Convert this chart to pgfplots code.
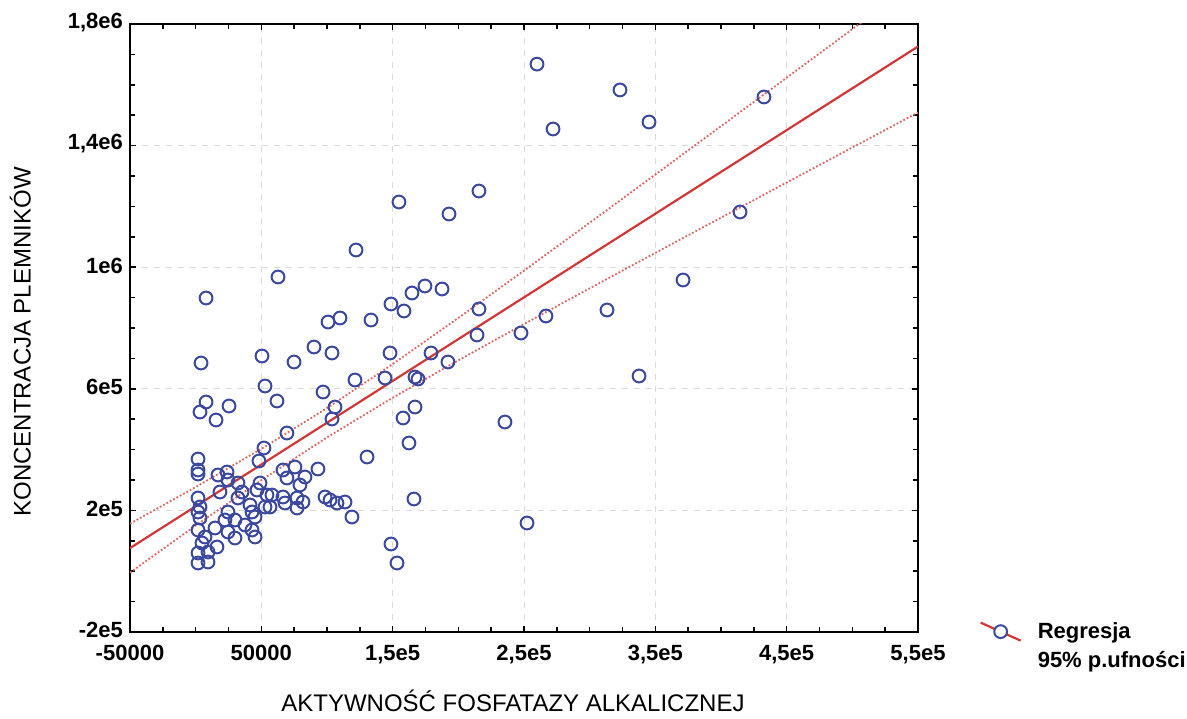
\documentclass[border=0pt]{standalone}
\usepackage{fontspec}
\setmainfont{Liberation Sans}
\usepackage{pgfplots}
\pgfplotsset{compat=1.18}
\definecolor{markblue}{RGB}{58,72,160}
\definecolor{regred}{RGB}{208,56,56}
\definecolor{bandred}{RGB}{222,100,100}
\begin{document}
\begin{tikzpicture}
\begin{axis}[
  scale only axis, width=394pt, height=304pt,
  xmin=-50000, xmax=550000, ymin=-200000, ymax=1800000,
  xtick={-50000,50000,150000,250000,350000,450000,550000},
  xticklabels={-50000,50000,{1,5e5},{2,5e5},{3,5e5},{4,5e5},{5,5e5}},
  ytick={-200000,200000,600000,1000000,1400000,1800000},
  yticklabels={-2e5,2e5,6e5,1e6,{1,4e6},{1,8e6}},
  minor x tick num=3, minor y tick num=3,
  scaled ticks=false,
  tick pos=both, tick align=inside,
  major tick length=3pt, minor tick length=2.5pt,
  every tick/.style={black, line width=0.8pt},
  axis line style={line width=1.1pt},
  grid=major, major grid style={gray!30, dashed, line width=0.5pt},
  ticklabel style={font=\fontsize{11}{13}\selectfont\bfseries},
  xticklabel style={yshift=-3pt},
  yticklabel style={yshift=0.8pt},
  label style={font=\fontsize{12}{14}\selectfont},
  xlabel={AKTYWNOŚĆ FOSFATAZY ALKALICZNEJ},
  ylabel={KONCENTRACJA PLEMNIKÓW},
  xlabel style={at={(axis description cs:0.486,-0.114)}, anchor=center},
  ylabel style={at={(axis description cs:-0.139,0.477)}, anchor=center},
  legend style={at={(axis description cs:1.07,0.03)}, anchor=north west,
    draw=none, fill=none, font=\fontsize{11}{13}\selectfont\bfseries, row sep=1pt,
    /tikz/every odd column/.append style={column sep=6pt}},
  legend cell align=left,
]
% observations
\addplot[only marks, mark=o, markblue, mark size=3.2pt, line width=1pt, forget plot] coordinates {
(259900,1668000) (323100,1583000) (432700,1560000) (345200,1477600) (272100,1454600)
(154800,1214500) (215700,1250700) (192900,1175000) (414500,1181600) (122100,1056600)
(62700,967800) (371100,957900) (174600,938200) (187600,928300) (164700,915100)
(7900,898700) (148700,879000) (215700,862500) (158600,855900) (313200,859200)
(266700,839500) (133500,826300) (100800,819700) (109900,832900) (247700,783600)
(214200,777000) (90100,737500) (103800,717800) (148000,717800) (179200,717800)
(192100,688200) (4100,684900) (50500,707900) (74900,688200) (121300,629000)
(144200,635500) (167000,638800) (169300,632200) (337600,642100) (52800,609200)
(97000,589500) (61900,559900) (106100,540100) (103800,500700) (167000,540100)
(157900,504000) (7900,556600) (3300,523700) (25400,543400) (15500,497400)
(235500,490800) (69500,454600) (162400,421700) (52000,405300) (130500,375700)
(1800,369100) (1800,332900) (1800,319700) (17000,316500) (23900,326300)
(48200,362500) (66500,332900) (75600,342800) (93100,336200) (83200,309900)
(69500,306600) (79400,283600) (32200,290100) (49000,290100) (18500,260500)
(32200,240800) (46700,267100) (54300,250700) (58100,250700) (66500,244100)
(68000,224300) (77200,240800) (81700,227600) (77200,207900) (98500,244100)
(102300,234200) (107600,224300) (113700,227600) (119000,178300) (166200,237500)
(252300,158600) (1800,240800) (3300,211200) (1800,194700) (3300,175000)
(1800,135500) (4800,92800) (9400,63200) (1800,59900) (1800,27000)
(9400,30300) (16200,79600) (14700,142100) (24600,194700) (22300,168400)
(29900,168400) (24600,129000) (29900,109200) (37600,152000) (41400,217800)
(42900,194700) (45200,178300) (42900,135500) (45200,112500) (52800,211200)
(148700,89500) (153300,27000) (7100,112500) (56600,211200) (24600,300000)
(35300,260500)
};
% 95% confidence band
\addplot[bandred, densely dotted, line width=0.9pt, forget plot] coordinates {
(-50000,156220) (0,276790) (50000,402310) (100000,536620) (150000,681270)
(200000,833140) (250000,988770) (300000,1146270) (350000,1304770) (400000,1463860)
(450000,1623310) (500000,1783010) (550000,1942880)
};
\addplot[bandred, densely dotted, line width=0.9pt, forget plot] coordinates {
(-50000,-4420) (0,150010) (50000,299490) (100000,440180) (150000,570530)
(200000,693660) (250000,813030) (300000,930530) (350000,1047030) (400000,1162940)
(450000,1278490) (500000,1393790) (550000,1508920)
};
% regression line
\addplot[regred, line width=1.1pt, forget plot] coordinates {(-50000,75900) (550000,1725900)};
\addlegendimage{legend image code/.code={
  \draw[regred, line width=1.1pt] (0pt,4.5pt) -- (20pt,-4.5pt);
  \draw[markblue, line width=1pt, fill=white] (10pt,0pt) circle (3.2pt);}}
\addlegendentry{Regresja}
\addlegendimage{empty legend}
\addlegendentry{95\% p.ufności}
\end{axis}
\pgfresetboundingbox
\path[use as bounding box] ([xshift=-65pt,yshift=-43pt]current axis.south west) rectangle ++(593.5pt,359pt);
\end{tikzpicture}
\end{document}
